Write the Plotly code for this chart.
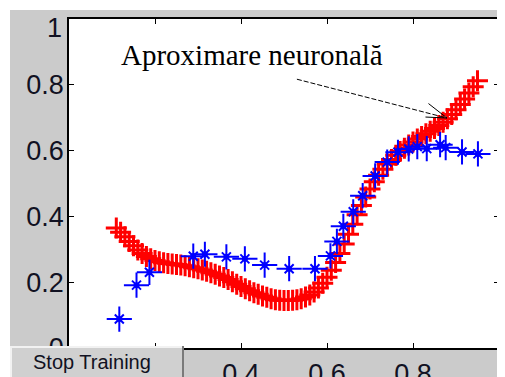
import plotly.graph_objects as go

# ---------------- data ----------------
red_x = [0.11, 0.12, 0.13, 0.14, 0.15, 0.16, 0.17, 0.18, 0.19, 0.20,
         0.21, 0.22, 0.23, 0.24, 0.25, 0.26, 0.27, 0.28, 0.29, 0.30,
         0.31, 0.32, 0.33, 0.34, 0.35, 0.36, 0.37, 0.38, 0.39, 0.40,
         0.41, 0.42, 0.43, 0.44, 0.45, 0.46, 0.47, 0.48, 0.49, 0.50,
         0.51, 0.52, 0.53, 0.54, 0.55, 0.56, 0.57, 0.58, 0.59, 0.60,
         0.61, 0.62, 0.63, 0.64, 0.65, 0.66, 0.67, 0.68, 0.69, 0.70,
         0.71, 0.72, 0.73, 0.74, 0.75, 0.76, 0.77, 0.78, 0.79, 0.80,
         0.81, 0.82, 0.83, 0.84, 0.85, 0.86, 0.87, 0.88, 0.89, 0.90,
         0.91, 0.92, 0.93, 0.94, 0.95]
red_y = [0.365, 0.352, 0.338, 0.324, 0.311, 0.298, 0.287, 0.278, 0.271, 0.266,
         0.262, 0.259, 0.257, 0.255, 0.254, 0.252, 0.250, 0.247, 0.244, 0.241,
         0.237, 0.233, 0.229, 0.224, 0.219, 0.214, 0.208, 0.201, 0.194, 0.187,
         0.180, 0.174, 0.168, 0.163, 0.158, 0.154, 0.150, 0.147, 0.145, 0.144,
         0.144, 0.145, 0.147, 0.150, 0.155, 0.161, 0.170, 0.182, 0.197, 0.215,
         0.236, 0.260, 0.287, 0.316, 0.346, 0.376, 0.405, 0.433, 0.459, 0.483,
         0.505, 0.525, 0.543, 0.559, 0.573, 0.586, 0.597, 0.607, 0.617, 0.626,
         0.635, 0.643, 0.651, 0.659, 0.667, 0.676, 0.686, 0.697, 0.710, 0.724,
         0.740, 0.757, 0.775, 0.794, 0.812]

blue_x = [0.117, 0.157, 0.187, 0.289, 0.316, 0.366, 0.409, 0.455, 0.512, 0.572,
          0.608, 0.623, 0.638, 0.661, 0.683, 0.712, 0.740, 0.765, 0.790, 0.810,
          0.832, 0.863, 0.876, 0.914, 0.951]
blue_y = [0.088, 0.191, 0.230, 0.279, 0.285, 0.277, 0.271, 0.252, 0.241, 0.241,
          0.280, 0.324, 0.370, 0.414, 0.463, 0.523, 0.565, 0.595, 0.605, 0.612,
          0.606, 0.618, 0.609, 0.596, 0.590]

tick_vals = [0, 0.2, 0.4, 0.6, 0.8, 1]
tick_text = ["0", "0.2", "0.4", "0.6", "0.8", "1"]

annot_text = "Aproximare neuronală"
arrow_from = (0.530, 0.817)
arrow_to = (0.879, 0.699)
arrow_barb_up = (0.836, 0.743)
arrow_barb_dn = (0.829, 0.702)
button_text = "Stop Training"

# ---------------- layout geometry (screen pixels) ----------------
OFF = 8                      # default page body margin around the figure
SW, SH = 505, 377            # window size
W, H = SW - OFF, SH - OFF    # figure size
PX0, PX1 = 69, 499           # plot area left/right on screen
PY0, PY1 = 19, 348           # plot area top/bottom on screen
L, R = PX0 - OFF, W - (PX1 - OFF)
T, B = PY0 - OFF, H - (PY1 - OFF)
PW, PH = PX1 - PX0, PY1 - PY0
GRAY = "#cbcbcb"
BTN = "#d0d0d0"


def px_x(p):
    return (p - PX0) / PW


def px_y(p):
    return (PY1 - p) / PH


fig = go.Figure()

fig.add_trace(go.Scatter(
    x=red_x, y=red_y, mode="markers",
    marker=dict(symbol="cross-thin-open", size=15, color="#ff0000",
                line=dict(color="#ff0000", width=3)),
    showlegend=False, hoverinfo="skip"))

for sym, sz, lw in [("cross-thin-open", 18, 2), ("x-thin-open", 9, 2)]:
    fig.add_trace(go.Scatter(
        x=blue_x, y=blue_y, mode="markers",
        marker=dict(symbol=sym, size=sz, color="#0000ff",
                    line=dict(color="#0000ff", width=lw)),
        showlegend=False, hoverinfo="skip"))
fig.add_trace(go.Scatter(
    x=blue_x, y=blue_y, mode="markers",
    marker=dict(symbol="circle", size=6, color="#0000ff", line=dict(width=0)),
    showlegend=False, hoverinfo="skip"))

TICKFONT = dict(family="Liberation Sans, Arial", size=27, color="#111122")
axis_common = dict(
    range=[0, 1], tickvals=tick_vals,
    ticks="inside", ticklen=5, tickwidth=1, tickcolor="black",
    showline=True, linecolor="black", linewidth=1.5, mirror="ticks",
    showgrid=False, zeroline=False, automargin=False, tickfont=TICKFONT,
)

fig.update_xaxes(**axis_common, ticktext=tick_text, ticklabelstandoff=1)
# top y label is drawn separately (MATLAB nudges it inside the window)
fig.update_yaxes(**axis_common, ticktext=tick_text[:-1] + [""], ticklabelstandoff=-2)

shapes = [
    # thin white strip top and left (body margin supplies the rest)
    dict(type="rect", xref="paper", yref="paper", x0=px_x(0), x1=px_x(SW + 5),
         y0=px_y(10), y1=px_y(0), fillcolor="white", line=dict(width=0), layer="below"),
    dict(type="rect", xref="paper", yref="paper", x0=px_x(0), x1=px_x(10),
         y0=px_y(SH + 5), y1=px_y(0), fillcolor="white", line=dict(width=0), layer="below"),
    # annotation arrow (dashed shaft + open head)
    dict(type="line", xref="x", yref="y", x0=arrow_from[0], y0=arrow_from[1],
         x1=arrow_to[0], y1=arrow_to[1], line=dict(color="black", width=1, dash="5px,2px")),
    dict(type="line", xref="x", yref="y", x0=arrow_barb_up[0], y0=arrow_barb_up[1],
         x1=arrow_to[0], y1=arrow_to[1], line=dict(color="black", width=1)),
    dict(type="line", xref="x", yref="y", x0=arrow_barb_dn[0], y0=arrow_barb_dn[1],
         x1=arrow_to[0], y1=arrow_to[1], line=dict(color="black", width=1)),
]


def block(x0, x1, y0, y1, color):
    # a plain filled box drawn in the annotation layer (above tick labels)
    return dict(text=" ", xref="paper", yref="paper", x=px_x(x0), y=px_y(y0),
                xanchor="left", yanchor="top", showarrow=False,
                width=x1 - x0, height=y1 - y0, bgcolor=color, borderpad=0,
                borderwidth=0, font=dict(size=1))


annotations = [
    dict(text=tick_text[-1], xref="paper", yref="paper", x=px_x(64), y=px_y(28),
         xanchor="right", yanchor="middle", showarrow=False, font=TICKFONT),
    dict(text=annot_text, xref="paper", yref="paper", x=px_x(252), y=px_y(73),
         xanchor="center", yanchor="bottom", showarrow=False,
         font=dict(family="Liberation Serif, Times New Roman", size=29, color="black")),
    block(10, 183, 346, SH + 4, BTN),
    block(10, 183, 346, 348, "#f2f2f2"),
    block(10, 12, 346, SH + 4, "#f2f2f2"),
    block(182, 184, 346, SH + 4, "#7a7a7a"),
    dict(text=button_text, xref="paper", yref="paper", x=px_x(92), y=px_y(362),
         xanchor="center", yanchor="middle", showarrow=False,
         font=dict(family="Liberation Sans, Arial", size=20, color="#111122")),
]

fig.update_layout(
    width=W, height=H, margin=dict(l=L, r=R, t=T, b=B, pad=0, autoexpand=False),
    paper_bgcolor=GRAY, plot_bgcolor="white",
    shapes=shapes, annotations=annotations, showlegend=False,
)

fig.write_html("out.html")
